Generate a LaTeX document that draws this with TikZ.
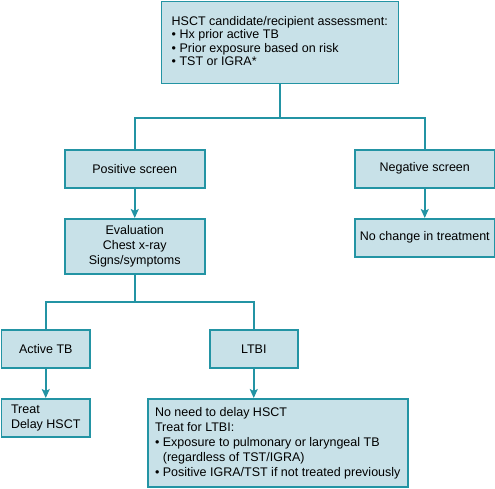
\documentclass[tikz,border=0pt]{standalone}
\usepackage{fontspec}
\setmainfont{Liberation Sans}
\usepackage{tikz}
\usetikzlibrary{arrows.meta}

\definecolor{tbline}{RGB}{35,148,164}
\definecolor{tbfill}{RGB}{200,225,232}

\tikzset{
	box/.style={draw=tbline, fill=tbfill, line width=1.5pt, anchor=north west,
		align=left, inner sep=0pt, font=\fontsize{12.5}{15}\selectfont},
	link/.style={draw=tbline, line width=1.5pt},
	flow/.style={link, -{Stealth[length=9pt, width=8pt, inset=2pt]}}
}

\begin{document}
\begin{tikzpicture}[x=1pt, y=-1pt]
	\useasboundingbox (0, 0) rectangle (495, 488);
	\node (top) at (160.5, 0.75) [box, minimum width=237pt, minimum height=82pt,
		font=\fontsize{12.5}{13.4}\selectfont]
		{\mbox{}\\[-7.4pt] HSCT candidate/recipient assessment:\\ \textbullet\ Hx prior active TB\\
		\textbullet\ Prior exposure based on risk\\ \textbullet\ TST or IGRA*};
	\node (pos) at (64, 149) [box, minimum width=140pt, minimum height=38pt] {Positive screen};
	\node (neg) at (354, 149) [box, minimum width=140pt, minimum height=38pt] {Negative screen};
	\node (eval) at (64, 218) [box, minimum width=140pt, minimum height=55pt, align=center]
		{Evaluation\\ Chest x-ray\\ Signs/symptoms};
	\node (nochange) at (354, 218) [box, minimum width=140pt, minimum height=38pt] {No change in treatment};
	\node (active) at (0.75, 329) [box, minimum width=88.5pt, minimum height=38pt] {Active TB};
	\node (ltbi) at (209, 329) [box, minimum width=88pt, minimum height=38pt] {LTBI};
	\node (treat) at (0.75, 398) [box, minimum width=88.5pt, minimum height=38pt] {Treat\\ Delay HSCT};
	\node (noneed) at (147, 398) [box, minimum width=260pt, minimum height=88.25pt]
		{No need to delay HSCT\\ Treat for LTBI:\\
		\textbullet\ Exposure to pulmonary or laryngeal TB\\
		\phantom{\textbullet\ }(regardless of TST/IGRA)\\
		\textbullet\ Positive IGRA/TST if not treated previously};

	% branching lines
	\coordinate (split) at (top.south |- 0, 118);
	\coordinate (split2) at (eval.south |- 0, 302);
	\draw [link] (top.south) -- (split) -| (pos.north);
	\draw [link] (split) -| (neg.north);
	\draw [link] (eval.south) -- (split2) -| (active.north);
	\draw [link] (split2) -| (ltbi.north);

	% arrows
	\draw [flow] (pos) -- (eval);
	\draw [flow] (neg) -- (nochange);
	\draw [flow] (active) -- (treat);
	\draw [flow] (ltbi) -- (noneed.north -| ltbi.south);
\end{tikzpicture}
\end{document}
